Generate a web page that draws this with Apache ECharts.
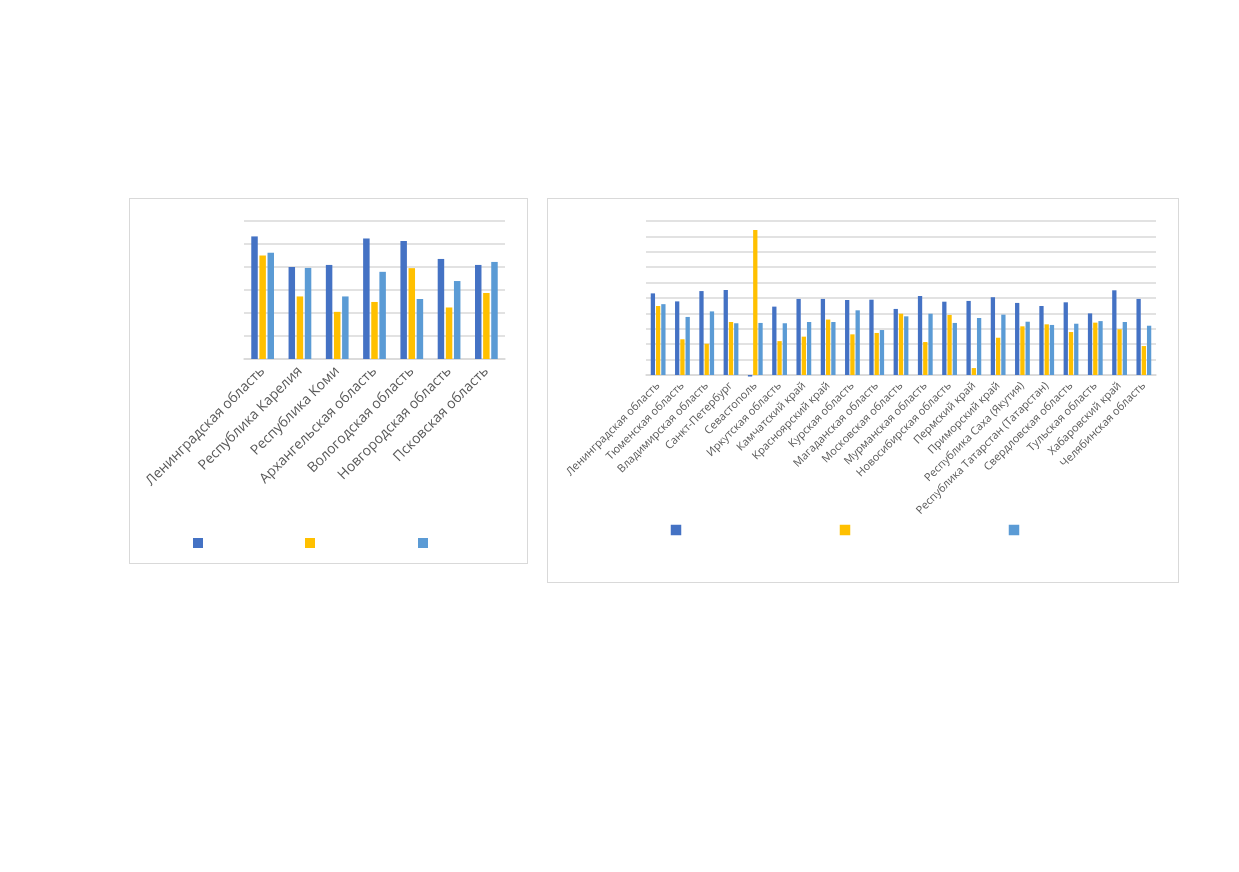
<!DOCTYPE html>
<html>
<head>
<meta charset="utf-8">
<script src="https://cdn.jsdelivr.net/npm/echarts@6/dist/echarts.min.js"></script>
<style>
  html, body { margin: 0; padding: 0; background: #fff; }
  .box { position: absolute; border: 1px solid #d9d9d9; box-sizing: border-box; background: #fff; }
  #left { left: 129px; top: 198px; width: 399px; height: 366px; }
  #right { left: 547px; top: 198px; width: 632px; height: 385px; }
</style>
</head>
<body>
<div id="left" class="box"></div>
<div id="right" class="box"></div>
<script>
// левая диаграмма: Северо-Запад
var leftCategories = ['Ленинградская область', 'Республика Карелия', 'Республика Коми', 'Архангельская область', 'Вологодская область', 'Новгородская область', 'Псковская область'];
var leftSeries1 = [5.33, 4.0, 4.09, 5.24, 5.13, 4.35, 4.09];
var leftSeries2 = [4.5, 2.72, 2.05, 2.48, 3.95, 2.24, 2.87];
var leftSeries3 = [4.62, 3.96, 2.72, 3.79, 2.61, 3.39, 4.22];

// правая диаграмма: регионы
var rightCategories = ['Ленинградская область', 'Тюменская область', 'Владимирская область', 'Санкт-Петербург', 'Севастополь', 'Иркутская область', 'Камчатский край', 'Красноярский край', 'Курская область', 'Магаданская область', 'Московская область', 'Мурманская область', 'Новосибирская область', 'Пермский край', 'Приморский край', 'Республика Саха (Якутия)', 'Республика Татарстан (Татарстан)', 'Свердловская область', 'Тульская область', 'Хабаровский край', 'Челябинская область'];
var rightSeries1 = [5.3, 4.78, 5.45, 5.52, -0.1, 4.44, 4.94, 4.94, 4.87, 4.89, 4.29, 5.13, 4.76, 4.81, 5.05, 4.68, 4.48, 4.72, 4.0, 5.5, 4.94];
var rightSeries2 = [4.48, 2.32, 2.03, 3.44, 9.42, 2.2, 2.49, 3.6, 2.64, 2.73, 3.98, 2.14, 3.9, 0.45, 2.42, 3.16, 3.29, 2.79, 3.4, 2.97, 1.88];
var rightSeries3 = [4.6, 3.77, 4.13, 3.36, 3.38, 3.36, 3.44, 3.44, 4.2, 2.92, 3.81, 3.98, 3.38, 3.7, 3.92, 3.46, 3.25, 3.33, 3.5, 3.44, 3.2];

var seriesNames = ['Ряд 1', 'Ряд 2', 'Ряд 3'];
var colors = ['#4472c4', '#ffc000', '#5b9bd5'];

function makeLegends(xs, y, size) {
    var arr = [];
    for (var i = 0; i < 3; i++) {
        arr.push({
            data: [seriesNames[i]],
            left: xs[i] - size / 2,
            top: y - size / 2,
            padding: 0,
            itemWidth: size,
            itemHeight: size,
            icon: 'rect',
            selectedMode: false,
            formatter: function () { return ''; }
        });
    }
    return arr;
}

function makeOption(cfg) {
    var series = [];
    for (var i = 0; i < 3; i++) {
        series.push({
            name: seriesNames[i],
            type: 'bar',
            data: cfg.data[i],
            barWidth: cfg.barWidth,
            barGap: cfg.barGap,
            clip: false,
            itemStyle: { color: colors[i] },
            emphasis: { disabled: true }
        });
    }
    return {
        animation: false,
        color: colors,
        textStyle: { fontFamily: '"Open Sans", sans-serif' },
        legend: makeLegends(cfg.legendX, cfg.legendY, cfg.legendSize),
        grid: cfg.grid,
        xAxis: {
            type: 'category',
            data: cfg.categories,
            axisLine: { lineStyle: { color: '#d9d9d9', width: 1.5 } },
            axisTick: { show: false },
            axisLabel: {
                interval: 0,
                rotate: 45,
                margin: cfg.labelMargin,
                color: '#595959',
                fontSize: cfg.fontSize,
                fontFamily: '"Open Sans", sans-serif'
            }
        },
        yAxis: {
            type: 'value',
            min: 0,
            max: cfg.max,
            interval: 1,
            axisLabel: { show: false },
            axisLine: { show: false },
            axisTick: { show: false },
            splitLine: { lineStyle: { color: '#d9d9d9', width: 1.5 } }
        },
        series: series
    };
}

var leftChart = echarts.init(document.getElementById('left'));
leftChart.setOption(makeOption({
    categories: leftCategories,
    data: [leftSeries1, leftSeries2, leftSeries3],
    grid: { left: 114, top: 22, width: 261, height: 138 },
    max: 6,
    barWidth: 6.5,
    barGap: '25%',
    fontSize: 14,
    labelMargin: 10,
    legendX: [68, 180, 293],
    legendY: 344,
    legendSize: 10
}));

var rightChart = echarts.init(document.getElementById('right'));
rightChart.setOption(makeOption({
    categories: rightCategories,
    data: [rightSeries1, rightSeries2, rightSeries3],
    grid: { left: 98, top: 22, width: 510, height: 154 },
    max: 10,
    barWidth: 4.3,
    barGap: '22%',
    fontSize: 11,
    labelMargin: 9,
    legendX: [128, 297, 466],
    legendY: 331,
    legendSize: 10.5
}));
</script>
</body>
</html>
